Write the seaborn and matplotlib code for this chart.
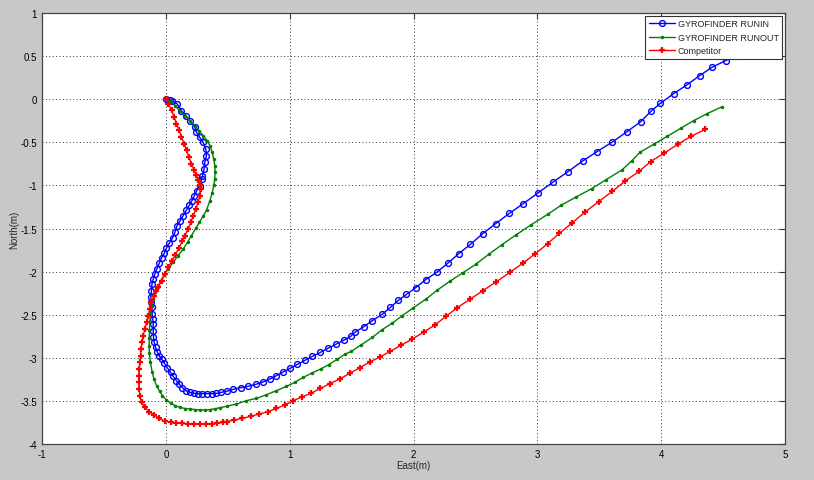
import matplotlib
matplotlib.use("Agg")
import matplotlib.pyplot as plt
import pandas as pd
import seaborn as sns

# Track points: (East, North) in metres
runin_track = [
    (0.0, 0.0), (0.03, -0.01), (0.046, -0.017), (0.092, -0.056), (0.126, -0.133), (0.161, -0.191),
    (0.194, -0.249), (0.234, -0.326), (0.247, -0.384), (0.274, -0.443), (0.301, -0.501),
    (0.323, -0.578), (0.328, -0.655), (0.315, -0.733), (0.309, -0.810), (0.296, -0.887),
    (0.288, -0.926), (0.274, -1.003), (0.25, -1.06), (0.23, -1.12), (0.21, -1.18), (0.19, -1.23),
    (0.165, -1.29), (0.14, -1.35), (0.115, -1.41), (0.09, -1.47), (0.073, -1.545), (0.054, -1.610),
    (0.027, -1.672), (0.005, -1.726), (-0.013, -1.788), (-0.035, -1.843), (-0.054, -1.904),
    (-0.073, -1.970), (-0.089, -2.028), (-0.102, -2.086), (-0.112, -2.144), (-0.116, -2.22),
    (-0.121, -2.30), (-0.118, -2.357), (-0.114, -2.415), (-0.110, -2.492), (-0.106, -2.550),
    (-0.102, -2.608), (-0.102, -2.685), (-0.100, -2.763), (-0.094, -2.821), (-0.083, -2.879),
    (-0.070, -2.929), (-0.054, -2.975), (-0.035, -3.014), (-0.013, -3.060), (0.013, -3.118),
    (0.038, -3.169), (0.059, -3.215), (0.086, -3.265), (0.108, -3.304), (0.134, -3.346),
    (0.161, -3.381), (0.194, -3.400), (0.226, -3.412), (0.261, -3.416), (0.296, -3.416),
    (0.334, -3.416), (0.369, -3.416), (0.409, -3.412), (0.449, -3.400), (0.490, -3.389),
    (0.543, -3.366), (0.603, -3.347), (0.665, -3.331), (0.726, -3.308), (0.783, -3.281),
    (0.839, -3.246), (0.893, -3.207), (0.947, -3.165), (1.003, -3.122), (1.063, -3.076),
    (1.122, -3.030), (1.184, -2.983), (1.248, -2.937), (1.313, -2.886), (1.377, -2.840),
    (1.439, -2.794), (1.493, -2.751), (1.525, -2.705), (1.598, -2.639), (1.668, -2.569),
    (1.746, -2.496), (1.813, -2.415), (1.878, -2.333), (1.943, -2.264), (2.018, -2.186),
    (2.098, -2.094), (2.190, -2.005), (2.276, -1.904), (2.365, -1.792), (2.459, -1.684),
    (2.559, -1.560), (2.663, -1.444), (2.774, -1.324), (2.886, -1.212), (3.005, -1.088),
    (3.123, -0.965), (3.247, -0.841), (3.366, -0.717), (3.481, -0.609), (3.605, -0.497),
    (3.720, -0.381), (3.834, -0.261), (3.917, -0.141), (3.993, -0.048), (4.10, 0.064),
    (4.21, 0.168), (4.31, 0.273), (4.41, 0.37), (4.52, 0.447), (4.61, 0.505), (4.70, 0.56),
]

runout_track = [
    (0.0, 0.0), (0.032, -0.017), (0.073, -0.075), (0.113, -0.133), (0.153, -0.191), (0.194, -0.249),
    (0.234, -0.307), (0.269, -0.365), (0.301, -0.423), (0.334, -0.481), (0.355, -0.539),
    (0.374, -0.616), (0.387, -0.694), (0.395, -0.771), (0.398, -0.848), (0.395, -0.926),
    (0.388, -0.99), (0.374, -1.09), (0.355, -1.18), (0.33, -1.28), (0.30, -1.36), (0.27, -1.43),
    (0.242, -1.498), (0.207, -1.583), (0.175, -1.660), (0.140, -1.738), (0.099, -1.815),
    (0.059, -1.893), (0.019, -1.970), (-0.013, -2.036), (-0.040, -2.106), (-0.067, -2.183),
    (-0.084, -2.241), (-0.10, -2.32), (-0.115, -2.40), (-0.125, -2.49), (-0.129, -2.589),
    (-0.132, -2.68), (-0.134, -2.77), (-0.135, -2.86), (-0.133, -2.94), (-0.125, -3.05),
    (-0.110, -3.169), (-0.095, -3.25), (-0.075, -3.323), (-0.05, -3.39), (-0.027, -3.439),
    (0.005, -3.49), (0.038, -3.524), (0.075, -3.555), (0.113, -3.574), (0.155, -3.588),
    (0.194, -3.594), (0.235, -3.60), (0.274, -3.605), (0.315, -3.605), (0.355, -3.601),
    (0.40, -3.59), (0.436, -3.578), (0.490, -3.563), (0.570, -3.536), (0.651, -3.497),
    (0.732, -3.470), (0.812, -3.428), (0.893, -3.381), (0.974, -3.331), (1.041, -3.285),
    (1.109, -3.227), (1.181, -3.176), (1.249, -3.130), (1.315, -3.080), (1.386, -3.014),
    (1.450, -2.956), (1.499, -2.925), (1.579, -2.848), (1.668, -2.763), (1.743, -2.678),
    (1.829, -2.596), (1.910, -2.511), (1.996, -2.422), (2.098, -2.322), (2.190, -2.217),
    (2.292, -2.113), (2.400, -2.012), (2.502, -1.916), (2.607, -1.800), (2.714, -1.688),
    (2.830, -1.572), (2.951, -1.456), (3.083, -1.336), (3.191, -1.231), (3.314, -1.134),
    (3.438, -1.038), (3.556, -0.933), (3.683, -0.821), (3.764, -0.713), (3.831, -0.613),
    (3.944, -0.520), (4.049, -0.431), (4.157, -0.338), (4.262, -0.249), (4.370, -0.168),
    (4.488, -0.090),
]

competitor_track = [
    (0.0, 0.0), (0.019, -0.052), (0.046, -0.129), (0.067, -0.206), (0.086, -0.284), (0.108, -0.361),
    (0.126, -0.438), (0.148, -0.516), (0.167, -0.593), (0.186, -0.670), (0.207, -0.748),
    (0.229, -0.825), (0.247, -0.883), (0.261, -0.941), (0.272, -0.99), (0.280, -1.042),
    (0.274, -1.119), (0.261, -1.197), (0.242, -1.274), (0.221, -1.351), (0.202, -1.428),
    (0.180, -1.506), (0.153, -1.583), (0.132, -1.649), (0.105, -1.726), (0.078, -1.804),
    (0.046, -1.881), (0.019, -1.951), (-0.008, -2.028), (-0.035, -2.106), (-0.062, -2.183),
    (-0.081, -2.229), (-0.095, -2.279), (-0.116, -2.357), (-0.129, -2.434), (-0.143, -2.511),
    (-0.156, -2.589), (-0.170, -2.666), (-0.183, -2.744), (-0.191, -2.821), (-0.202, -2.898),
    (-0.204, -2.975), (-0.210, -3.053), (-0.215, -3.130), (-0.218, -3.207), (-0.218, -3.285),
    (-0.215, -3.362), (-0.210, -3.439), (-0.196, -3.517), (-0.170, -3.575), (-0.134, -3.625),
    (-0.094, -3.664), (-0.054, -3.703), (-0.008, -3.734), (0.038, -3.749), (0.086, -3.757),
    (0.134, -3.761), (0.180, -3.765), (0.226, -3.768), (0.274, -3.768), (0.323, -3.768),
    (0.369, -3.765), (0.414, -3.757), (0.463, -3.749), (0.490, -3.741), (0.551, -3.722),
    (0.616, -3.702), (0.686, -3.679), (0.753, -3.652), (0.826, -3.625), (0.893, -3.586),
    (0.960, -3.548), (1.028, -3.497), (1.103, -3.451), (1.176, -3.409), (1.248, -3.354),
    (1.324, -3.300), (1.404, -3.246), (1.490, -3.176), (1.566, -3.115), (1.646, -3.049),
    (1.733, -2.987), (1.813, -2.925), (1.902, -2.852), (1.991, -2.782), (2.082, -2.701),
    (2.176, -2.616), (2.262, -2.519), (2.354, -2.418), (2.454, -2.322), (2.561, -2.221),
    (2.669, -2.117), (2.779, -2.008), (2.881, -1.904), (2.984, -1.792), (3.083, -1.676),
    (3.177, -1.556), (3.277, -1.440), (3.382, -1.312), (3.495, -1.189), (3.605, -1.069),
    (3.710, -0.949), (3.821, -0.837), (3.914, -0.725), (4.020, -0.628), (4.135, -0.524),
    (4.240, -0.431), (4.356, -0.350),
]

x_ticks = [-1, 0, 1, 2, 3, 4, 5]
y_ticks = [-4, -3.5, -3, -2.5, -2, -1.5, -1, -0.5, 0, 0.5, 1]
y_tick_labels = ["-4", "-3.5", "-3", "-2.5", "-2", "-1.5", "-1", "-0.5", "0", "0.5", "1"]

runin = pd.DataFrame(runin_track, columns=["East", "North"])
runout = pd.DataFrame(runout_track, columns=["East", "North"])
comp = pd.DataFrame(competitor_track, columns=["East", "North"])

sns.set_style("white")
plt.rcParams["font.family"] = ["Liberation Sans", "DejaVu Sans"]

fig = plt.figure(figsize=(8.14, 4.81), dpi=100, facecolor="#c8c8c8")
ax = fig.add_axes([0.0516, 0.0748, 0.9128, 0.8961])
ax.set_facecolor("white")

sns.lineplot(data=runin, x="East", y="North", sort=False, estimator=None, ax=ax,
             color="#0000ff", lw=1.0, marker="o", markersize=4.2, markerfacecolor="none",
             markeredgecolor="#0000ff", markeredgewidth=1.0, label="GYROFINDER RUNIN")
sns.lineplot(data=runout, x="East", y="North", sort=False, estimator=None, ax=ax,
             color="#008000", lw=1.0, marker=".", markersize=3.5, markeredgecolor="#008000",
             label="GYROFINDER RUNOUT")
sns.lineplot(data=comp, x="East", y="North", sort=False, estimator=None, ax=ax,
             color="#ff0000", lw=1.0, marker="+", markersize=4.2, markeredgewidth=1.6,
             markeredgecolor="#ff0000", label="Competitor")

ax.set_xlim(-1, 5)
ax.set_ylim(-4, 1)
ax.set_xticks(x_ticks)
ax.set_xticklabels([str(t) for t in x_ticks])
ax.set_yticks(y_ticks)
ax.set_yticklabels(y_tick_labels)
ax.grid(True, color="#333333", linestyle=(0, (1, 2.5)), lw=0.7)
ax.tick_params(direction="in", length=4, width=0.8, labelsize=7, top=True, right=True,
               colors="#333333", labelcolor="black")
for s in ax.spines.values():
    s.set_color("#444444")
    s.set_linewidth(0.9)

ax.set_xlabel("East(m)", fontsize=7, labelpad=1)
ax.set_ylabel("North(m)", fontsize=7, labelpad=1)

leg = ax.legend(loc="upper right", fontsize=6.5, frameon=True, fancybox=False, framealpha=1,
                edgecolor="#333333", borderaxespad=0.3, handlelength=2.9, borderpad=0.4,
                labelspacing=0.5, handletextpad=0.3)
leg.get_frame().set_linewidth(0.8)

fig.savefig("out.png", dpi=100, facecolor=fig.get_facecolor())
